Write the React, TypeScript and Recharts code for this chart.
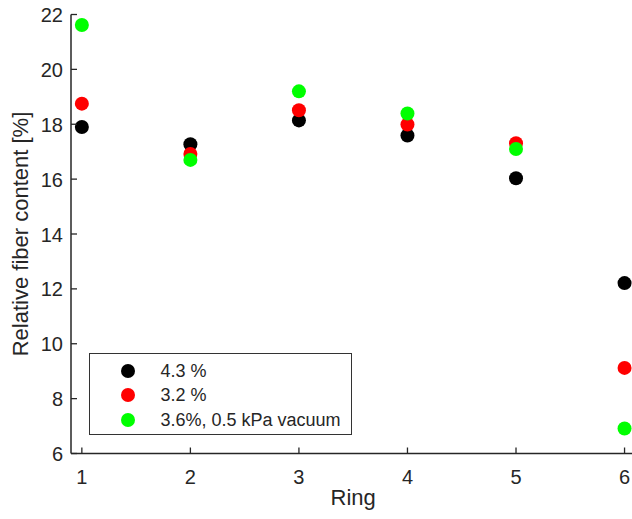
import React from 'react';
import { ScatterChart, Scatter, XAxis, YAxis, Legend, Label } from 'recharts';

const rings = [1, 2, 3, 4, 5, 6];
const black43 = [17.9, 17.27, 18.14, 17.59, 16.03, 12.21];
const red32 = [18.75, 16.92, 18.51, 17.99, 17.31, 9.12];
const green36 = [21.62, 16.7, 19.2, 18.39, 17.1, 6.91];
const xTicks = [1, 2, 3, 4, 5, 6];
const yTicks = [6, 8, 10, 12, 14, 16, 18, 20, 22];
const seriesNames = ['4.3 %', '3.2 %', '3.6%, 0.5 kPa vacuum'];
const seriesColors = ['#000000', '#ff0000', '#00ff00'];

const toPoints = (vals: number[]) => rings.map((r, i) => ({ x: r, y: vals[i] }));
const seriesData = [toPoints(black43), toPoints(red32), toPoints(green36)];

const FONT = '"Liberation Sans", Arial, sans-serif';
const INK = '#262626';
const TICK = 6;

const LeftTick = (p: any) => (
  <g>
    <line x1={p.x} x2={p.x + TICK} y1={p.y} y2={p.y} stroke={INK} strokeWidth={1.3} />
    <text x={p.x - 8} y={p.y + 7.5} textAnchor="end" fontSize={20} fontFamily={FONT} fill={INK}>
      {p.payload.value}
    </text>
  </g>
);
const RightTick = (p: any) => (
  <line x1={p.x} x2={p.x - TICK} y1={p.y} y2={p.y} stroke={INK} strokeWidth={1.3} />
);
const BottomTick = (p: any) => (
  <g>
    <line x1={p.x} x2={p.x} y1={p.y} y2={p.y - TICK} stroke={INK} strokeWidth={1.3} />
    <text x={p.x} y={p.y + 30} textAnchor="middle" fontSize={20} fontFamily={FONT} fill={INK}>
      {p.payload.value}
    </text>
  </g>
);
const TopTick = (p: any) => (
  <line x1={p.x} x2={p.x} y1={p.y} y2={p.y + TICK} stroke={INK} strokeWidth={1.3} />
);

const Dot = (color: string) => (p: any) => <circle cx={p.cx} cy={p.cy} r={7} fill={color} />;

const LegendBox = () => (
  <div
    style={{
      boxSizing: 'border-box',
      width: 263,
      height: 82,
      border: '1px solid #333',
      background: '#fff',
      paddingTop: 5,
      fontFamily: FONT,
      fontSize: 18,
      color: INK,
    }}
  >
    {seriesNames.map((n, i) => (
      <div key={n} style={{ height: 24.5, position: 'relative' }}>
        <svg width={16} height={16} style={{ position: 'absolute', left: 29.5, top: 4.25 }}>
          <circle cx={8} cy={8} r={7} fill={seriesColors[i]} />
        </svg>
        <span style={{ position: 'absolute', left: 70.5, top: 0, lineHeight: '24.5px', whiteSpace: 'nowrap' }}>{n}</span>
      </div>
    ))}
  </div>
);

export default function App() {
  return (
    <div style={{ position: 'absolute', left: 0, top: 0, width: 632, height: 519, overflow: 'hidden', background: '#fff' }}>
      <ScatterChart width={660} height={519} margin={{ top: 14.5, right: 24.6, left: 0, bottom: 0 }}>
        <XAxis
          xAxisId="b"
          dataKey="x"
          type="number"
          domain={[0.9, 6.1]}
          ticks={xTicks}
          height={65.5}
          tickSize={0}
          tickMargin={0}
          tickLine={false}
          tick={BottomTick}
          axisLine={{ stroke: INK, strokeWidth: 1.5 }}
          interval={0}
        >
          <Label
            content={() => (
              <text x={353.2} y={505} textAnchor="middle" fontSize={22} fontFamily={FONT} fill={INK}>
                Ring
              </text>
            )}
          />
        </XAxis>
        <XAxis
          xAxisId="t"
          orientation="top"
          type="number"
          domain={[0.9, 6.1]}
          ticks={xTicks}
          height={0}
          tickSize={0}
          tickMargin={0}
          tickLine={false}
          tick={TopTick}
          axisLine={{ stroke: INK, strokeWidth: 1.5 }}
          interval={0}
        />
        <YAxis
          yAxisId="l"
          dataKey="y"
          type="number"
          domain={[6, 22]}
          ticks={yTicks}
          width={71}
          tickSize={0}
          tickMargin={0}
          tickLine={false}
          tick={LeftTick}
          axisLine={{ stroke: INK, strokeWidth: 1.5 }}
          interval={0}
        >
          <Label
            content={() => (
              <text
                x={28}
                y={234}
                textAnchor="middle"
                fontSize={22}
                fontFamily={FONT}
                fill={INK}
                transform="rotate(-90 28 234)"
              >
                Relative fiber content [%]
              </text>
            )}
          />
        </YAxis>
        <YAxis
          yAxisId="r"
          orientation="right"
          type="number"
          domain={[6, 22]}
          ticks={yTicks}
          width={0}
          tickSize={0}
          tickMargin={0}
          tickLine={false}
          tick={RightTick}
          axisLine={{ stroke: INK, strokeWidth: 1.5 }}
          interval={0}
        />
        {seriesData.map((d, i) => (
          <Scatter
            key={seriesNames[i]}
            name={seriesNames[i]}
            data={d}
            xAxisId="b"
            yAxisId="l"
            fill={seriesColors[i]}
            shape={Dot(seriesColors[i])}
            isAnimationActive={false}
          />
        ))}
        <Legend
          layout="vertical"
          align="center"
          verticalAlign="middle"
          content={LegendBox}
          wrapperStyle={{ position: 'absolute', left: 89, top: 352.5, width: 263, height: 82 }}
        />
      </ScatterChart>
    </div>
  );
}
